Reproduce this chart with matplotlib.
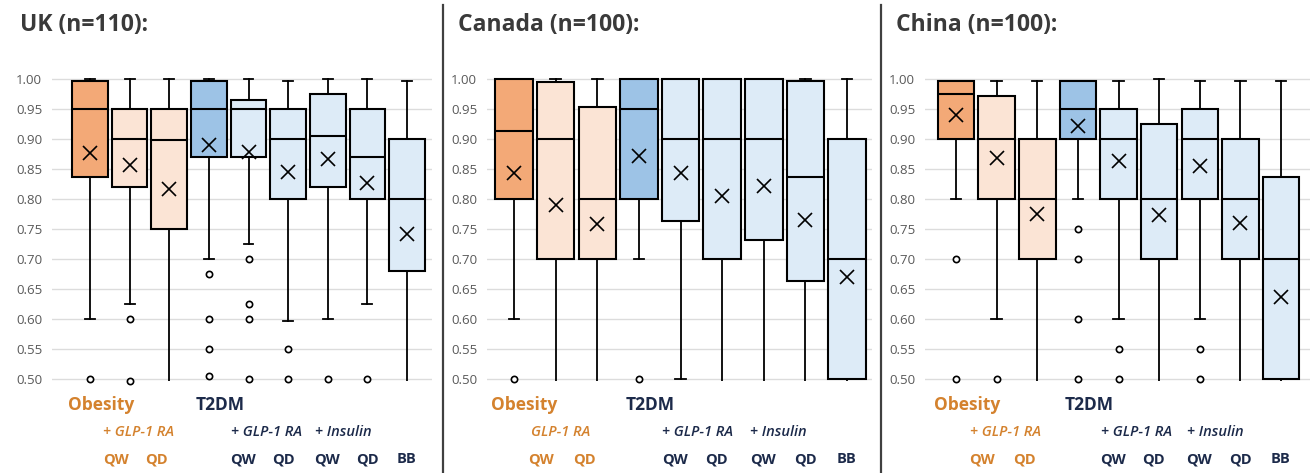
import matplotlib.pyplot as plt
import matplotlib.transforms as mtransforms
from matplotlib.lines import Line2D
import numpy as np

plt.rcParams["font.family"] = ["Open Sans", "DejaVu Sans"]

# --- Data ---------------------------------------------------------------------
# 9 boxes per panel: Obesity GLP-1 RA (combined, QW, QD), T2DM GLP-1 RA
# (combined, QW, QD), T2DM insulin (QW, QD, BB). Values below 0.50 are clipped.
uk_whishi = [1.00, 1.00, 1.00, 1.00, 1.00, 0.997, 1.00, 1.00, 0.997]
uk_q3     = [0.997, 0.95, 0.95, 0.997, 0.965, 0.95, 0.975, 0.95, 0.90]
uk_med    = [0.95, 0.90, 0.898, 0.95, 0.95, 0.90, 0.904, 0.869, 0.80]
uk_q1     = [0.837, 0.82, 0.75, 0.87, 0.869, 0.80, 0.82, 0.80, 0.68]
uk_whislo = [0.60, 0.625, 0.45, 0.70, 0.725, 0.597, 0.60, 0.625, 0.45]
uk_mean   = [0.877, 0.857, 0.817, 0.889, 0.8775, 0.845, 0.866, 0.827, 0.742]
uk_fliers = [[0.50], [0.60, 0.497], [], [0.675, 0.60, 0.55, 0.505],
             [0.70, 0.625, 0.60, 0.50], [0.55, 0.50], [0.50], [0.50], []]

ca_whishi = [1.00, 1.00, 1.00, 1.00, 1.00, 1.00, 1.00, 1.00, 1.00]
ca_q3     = [1.00, 0.9945, 0.953, 1.00, 1.00, 1.00, 1.00, 0.996, 0.90]
ca_med    = [0.913, 0.90, 0.80, 0.95, 0.90, 0.90, 0.90, 0.837, 0.70]
ca_q1     = [0.80, 0.70, 0.70, 0.80, 0.763, 0.70, 0.732, 0.663, 0.50]
ca_whislo = [0.60, 0.45, 0.45, 0.70, 0.50, 0.45, 0.45, 0.45, 0.45]
ca_mean   = [0.8425, 0.79, 0.758, 0.871, 0.8425, 0.805, 0.822, 0.765, 0.669]
ca_fliers = [[0.50], [], [], [0.50], [], [], [], [], []]

cn_whishi = [0.996, 0.996, 0.996, 0.996, 0.996, 1.00, 0.996, 0.996, 0.996]
cn_q3     = [0.996, 0.972, 0.90, 0.996, 0.95, 0.924, 0.95, 0.90, 0.837]
cn_med    = [0.975, 0.90, 0.80, 0.95, 0.90, 0.80, 0.90, 0.80, 0.70]
cn_q1     = [0.90, 0.80, 0.70, 0.90, 0.80, 0.70, 0.80, 0.70, 0.50]
cn_whislo = [0.80, 0.60, 0.45, 0.80, 0.60, 0.45, 0.60, 0.45, 0.45]
cn_mean   = [0.939, 0.868, 0.7745, 0.922, 0.8625, 0.773, 0.855, 0.7595, 0.637]
cn_fliers = [[0.70, 0.50], [0.50], [], [0.75, 0.70, 0.60, 0.50], [0.55, 0.50],
             [], [0.55, 0.50], [], []]

titles = ["UK (n=110):", "Canada (n=100):", "China (n=100):"]
obesity_sub = ["+ GLP-1 RA", "GLP-1 RA", "+ GLP-1 RA"]
dose_labels = ["QW", "QD", "QW", "QD", "QW", "QD", "BB"]
# -----------------------------------------------------------------------------

W, H = 1315, 473
DARK_OR, LIGHT_OR = "#F3A977", "#FBE4D5"
DARK_BL, LIGHT_BL = "#9DC3E6", "#DDEBF7"
BOX_COLORS = [DARK_OR, LIGHT_OR, LIGHT_OR, DARK_BL] + [LIGHT_BL] * 5
ORANGE_TXT = "#D4822E"
NAVY_TXT = "#1C2A4A"

# panel geometry in pixels: left, right, xlim
PANELS = [(52, 432, (0.04, 9.63)),
          (487, 872, (0.35, 9.60)),
          (925, 1310, (0.24, 9.71))]
AX_TOP, AX_BOT = 77, 381
OB_SUB_X = [1.33, 1.41, 1.35]
DOSE_X = [1.65, 2.68, 4.87, 5.87, 6.98, 8.0, 8.98]


def make_stats(whishi, q3, med, q1, whislo, mean, fliers):
    return [dict(whishi=whishi[i], q3=q3[i], med=med[i], q1=q1[i],
                 whislo=whislo[i], mean=mean[i], fliers=fliers[i])
            for i in range(len(med))]


def draw_panel(fig, idx, stats):
    left, right, xlim = PANELS[idx]
    ax = fig.add_axes([left / W, 1 - AX_BOT / H, (right - left) / W,
                       (AX_BOT - AX_TOP) / H])
    bp = ax.bxp(stats, positions=np.arange(1, 10), widths=0.9,
                patch_artist=True, showmeans=True, capwidths=0.25,
                boxprops=dict(edgecolor="black", linewidth=1.5),
                medianprops=dict(color="black", linewidth=1.5),
                whiskerprops=dict(color="black", linewidth=1.3),
                capprops=dict(color="black", linewidth=1.3),
                meanprops=dict(marker="x", markersize=9.5, markeredgewidth=1.2,
                               markeredgecolor="black"),
                flierprops=dict(marker="o", markersize=4.5, markerfacecolor="white",
                                markeredgecolor="black", markeredgewidth=1.2))
    for patch, c in zip(bp["boxes"], BOX_COLORS):
        patch.set_facecolor(c)
    for fl in bp["fliers"]:
        fl.set_clip_on(False)

    ax.set_xlim(*xlim)
    ax.set_ylim(0.4965, 1.003)
    ax.set_yticks(np.arange(0.50, 1.001, 0.05))
    ax.set_yticklabels([f"{v:.2f}" for v in np.arange(0.50, 1.001, 0.05)])
    ax.tick_params(axis="y", length=0, pad=7, labelsize=9.5, labelcolor="#595959")
    ax.set_xticks([])
    for s in ax.spines.values():
        s.set_visible(False)
    ax.grid(axis="y", color="#DCDCDC", lw=1)
    ax.set_axisbelow(True)

    # title and group labels
    x0 = [20, 458, 896][idx]
    fig.text(x0 / W, 1 - 25 / H, titles[idx], fontsize=16.5, fontweight="bold",
             color="#3A3A3A", va="center", ha="left")
    tr = mtransforms.blended_transform_factory(ax.transData, fig.transFigure)
    y1, y2, y3 = 1 - 405 / H, 1 - 432 / H, 1 - 459 / H
    ax.text(0.45, y1, "Obesity", transform=tr, fontsize=12.5, fontweight="bold",
            color=ORANGE_TXT, va="center", ha="left")
    ax.text(3.67, y1, "T2DM", transform=tr, fontsize=12.5, fontweight="bold",
            color=NAVY_TXT, va="center", ha="left")
    ax.text(OB_SUB_X[idx], y2, obesity_sub[idx], transform=tr, fontsize=10.5,
            fontweight="semibold", style="italic", color=ORANGE_TXT,
            va="center", ha="left")
    ax.text(4.56, y2, "+ GLP-1 RA", transform=tr, fontsize=10.5,
            fontweight="semibold", style="italic", color=NAVY_TXT,
            va="center", ha="left")
    ax.text(6.68, y2, "+ Insulin", transform=tr, fontsize=10.5,
            fontweight="semibold", style="italic", color=NAVY_TXT,
            va="center", ha="left")
    for j, (lab, xx) in enumerate(zip(dose_labels, DOSE_X)):
        ax.text(xx, y3, lab, transform=tr, fontsize=10.5, fontweight="bold",
                color=ORANGE_TXT if j < 2 else NAVY_TXT, va="center", ha="center")
    return ax


if __name__ == "__main__":
    fig = plt.figure(figsize=(W / 100, H / 100), dpi=100)

    draw_panel(fig, 0, make_stats(uk_whishi, uk_q3, uk_med, uk_q1,
                                  uk_whislo, uk_mean, uk_fliers))
    draw_panel(fig, 1, make_stats(ca_whishi, ca_q3, ca_med, ca_q1,
                                  ca_whislo, ca_mean, ca_fliers))
    draw_panel(fig, 2, make_stats(cn_whishi, cn_q3, cn_med, cn_q1,
                                  cn_whislo, cn_mean, cn_fliers))

    # panel dividers
    for xp in (443, 881):
        fig.add_artist(Line2D([xp / W, xp / W], [0, 1 - 5 / H],
                              transform=fig.transFigure, color="#404040", lw=1.6))

    fig.savefig("out.png", dpi=100)
